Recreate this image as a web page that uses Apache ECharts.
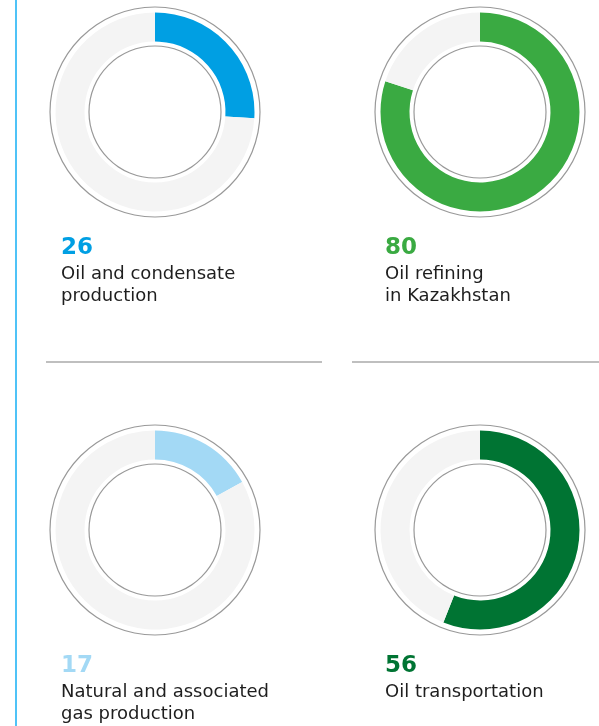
<!DOCTYPE html>
<html>
<head>
<meta charset="utf-8">
<script src="https://cdn.jsdelivr.net/npm/echarts@6/dist/echarts.min.js"></script>
<style>
  html, body { margin: 0; padding: 0; background: #fff; }
  #chart { width: 599px; height: 726px; }
</style>
</head>
<body>
<div id="chart"></div>
<script>
// share of each segment, %
const labels = [
  "Oil and condensate\nproduction",
  "Oil refining\nin Kazakhstan",
  "Natural and associated\ngas production",
  "Oil transportation",
];
const values = [26, 80, 17, 56];

const colors = ["#009fe3", "#3aaa42", "#a3d9f5", "#007433"];
const track = "#f4f4f4";
const ringLine = "#999999";

// panel layout: two columns, two rows
const colX = [155, 480];
const rowY = [112, 530];
const textX = [61, 385];
const textY = [236, 654];

const chart = echarts.init(document.getElementById("chart"));

const series = [];
const titles = [];

values.forEach((v, i) => {
  const cx = colX[i % 2];
  const cy = rowY[Math.floor(i / 2)];
  // filled arc + grey rest
  series.push({
    type: "pie",
    silent: true,
    center: [cx, cy],
    radius: [70.5, 99.5],
    startAngle: 90,
    label: { show: false },
    labelLine: { show: false },
    data: [
      { value: v, name: labels[i], itemStyle: { color: colors[i] } },
      { value: 100 - v, name: "", itemStyle: { color: track } },
    ],
  });
  // thin outer and inner circles
  [[104.4, 105.6], [65.4, 66.6]].forEach((r) => {
    series.push({
      type: "pie",
      silent: true,
      center: [cx, cy],
      radius: r,
      label: { show: false },
      labelLine: { show: false },
      data: [{ value: 1, itemStyle: { color: ringLine } }],
    });
  });
  titles.push({
    text: String(v),
    subtext: labels[i],
    left: textX[i % 2],
    top: textY[Math.floor(i / 2)],
    padding: 0,
    itemGap: 3,
    textStyle: {
      color: colors[i],
      fontFamily: "DejaVu Sans",
      fontWeight: "bold",
      fontSize: 23,
      lineHeight: 25,
    },
    subtextStyle: {
      color: "#1e1e1e",
      fontFamily: "DejaVu Sans",
      fontSize: 18,
      lineHeight: 21.5,
    },
  });
});

chart.setOption({
  animation: false,
  title: titles,
  tooltip: { show: false },
  graphic: [
    // left blue rule
    { type: "rect", shape: { x: 15, y: 0, width: 2, height: 726 }, style: { fill: "#4fc3f7" }, silent: true },
    // horizontal separators
    { type: "line", shape: { x1: 46, y1: 362, x2: 322, y2: 362 }, style: { stroke: "#aaaaaa", lineWidth: 1.5 }, silent: true },
    { type: "line", shape: { x1: 352, y1: 362, x2: 599, y2: 362 }, style: { stroke: "#aaaaaa", lineWidth: 1.5 }, silent: true },
  ],
  series: series,
});
</script>
</body>
</html>
